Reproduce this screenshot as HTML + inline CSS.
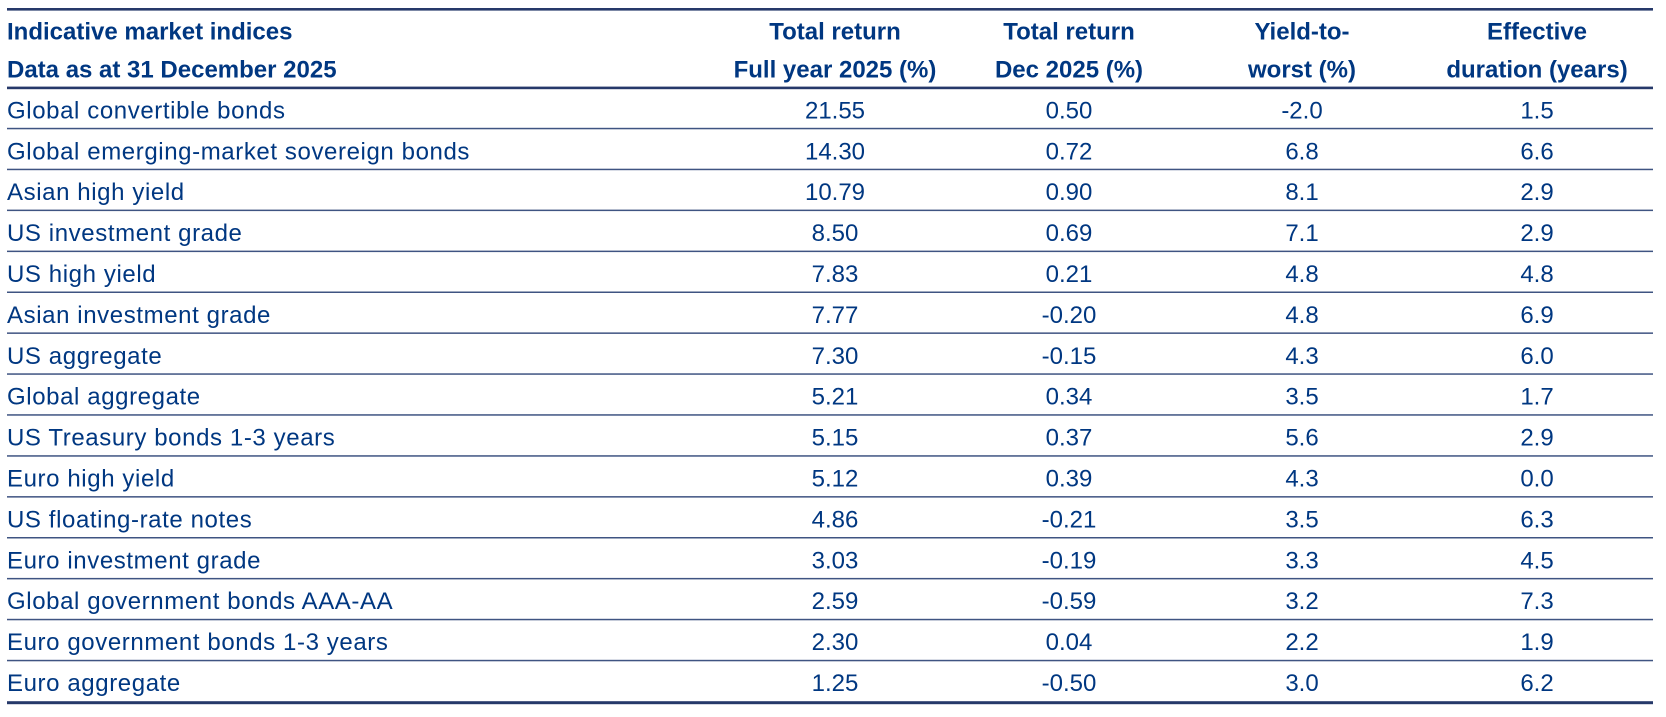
<!DOCTYPE html>
<html>
<head>
<meta charset="utf-8">
<style>
  html, body { margin:0; padding:0; background:#ffffff; }
  body { width:1666px; height:717px; overflow:hidden; }
  svg { display:block; }
  .h { font-family:"Liberation Sans", Arial, sans-serif; font-weight:bold; font-size:24px; fill:#003781; }
  .l { font-family:"Liberation Sans", Arial, sans-serif; font-size:24px; letter-spacing:0.6px; fill:#003781; }
  .n { font-family:"Liberation Sans", Arial, sans-serif; font-size:24px; fill:#003781; text-anchor:middle; }
  .hc { text-anchor:middle; }
</style>
</head>
<body>
<svg width="1666" height="717" viewBox="0 0 1666 717" xmlns="http://www.w3.org/2000/svg">
  <!-- thick rules -->
  <rect x="7" y="8" width="1646" height="2.6" fill="#26396a"/>
  <rect x="7" y="86.6" width="1646" height="2.6" fill="#26396a"/>
  <rect x="7" y="701.2" width="1646" height="3" fill="#26396a"/>

  <!-- thin row rules -->
  <g fill="#3f5482">
    <rect x="7" y="127.8" width="1646" height="1.5"/>
    <rect x="7" y="168.7" width="1646" height="1.5"/>
    <rect x="7" y="209.6" width="1646" height="1.5"/>
    <rect x="7" y="250.6" width="1646" height="1.5"/>
    <rect x="7" y="291.5" width="1646" height="1.5"/>
    <rect x="7" y="332.4" width="1646" height="1.5"/>
    <rect x="7" y="373.3" width="1646" height="1.5"/>
    <rect x="7" y="414.2" width="1646" height="1.5"/>
    <rect x="7" y="455.2" width="1646" height="1.5"/>
    <rect x="7" y="496.1" width="1646" height="1.5"/>
    <rect x="7" y="537.0" width="1646" height="1.5"/>
    <rect x="7" y="577.9" width="1646" height="1.5"/>
    <rect x="7" y="618.8" width="1646" height="1.5"/>
    <rect x="7" y="659.8" width="1646" height="1.5"/>
  </g>

  <!-- header -->
  <text class="h" x="7" y="39.5">Indicative market indices</text>
  <text class="h" x="7" y="77.5">Data as at 31 December 2025</text>
  <text class="h hc" x="835" y="39.5">Total return</text>
  <text class="h hc" x="835" y="77.5">Full year 2025 (%)</text>
  <text class="h hc" x="1069" y="39.5">Total return</text>
  <text class="h hc" x="1069" y="77.5">Dec 2025 (%)</text>
  <text class="h hc" x="1302" y="39.5">Yield-to-</text>
  <text class="h hc" x="1302" y="77.5">worst (%)</text>
  <text class="h hc" x="1537" y="39.5">Effective</text>
  <text class="h hc" x="1537" y="77.5">duration (years)</text>

  <!-- rows -->
  <g>
    <text class="l" x="7" y="118.4">Global convertible bonds</text>
    <text class="n" x="835" y="118.4">21.55</text><text class="n" x="1069" y="118.4">0.50</text><text class="n" x="1302" y="118.4">-2.0</text><text class="n" x="1537" y="118.4">1.5</text>

    <text class="l" x="7" y="159.3">Global emerging-market sovereign bonds</text>
    <text class="n" x="835" y="159.3">14.30</text><text class="n" x="1069" y="159.3">0.72</text><text class="n" x="1302" y="159.3">6.8</text><text class="n" x="1537" y="159.3">6.6</text>

    <text class="l" x="7" y="200.2">Asian high yield</text>
    <text class="n" x="835" y="200.2">10.79</text><text class="n" x="1069" y="200.2">0.90</text><text class="n" x="1302" y="200.2">8.1</text><text class="n" x="1537" y="200.2">2.9</text>

    <text class="l" x="7" y="241.1">US investment grade</text>
    <text class="n" x="835" y="241.1">8.50</text><text class="n" x="1069" y="241.1">0.69</text><text class="n" x="1302" y="241.1">7.1</text><text class="n" x="1537" y="241.1">2.9</text>

    <text class="l" x="7" y="282.0">US high yield</text>
    <text class="n" x="835" y="282.0">7.83</text><text class="n" x="1069" y="282.0">0.21</text><text class="n" x="1302" y="282.0">4.8</text><text class="n" x="1537" y="282.0">4.8</text>

    <text class="l" x="7" y="322.9">Asian investment grade</text>
    <text class="n" x="835" y="322.9">7.77</text><text class="n" x="1069" y="322.9">-0.20</text><text class="n" x="1302" y="322.9">4.8</text><text class="n" x="1537" y="322.9">6.9</text>

    <text class="l" x="7" y="363.8">US aggregate</text>
    <text class="n" x="835" y="363.8">7.30</text><text class="n" x="1069" y="363.8">-0.15</text><text class="n" x="1302" y="363.8">4.3</text><text class="n" x="1537" y="363.8">6.0</text>

    <text class="l" x="7" y="404.7">Global aggregate</text>
    <text class="n" x="835" y="404.7">5.21</text><text class="n" x="1069" y="404.7">0.34</text><text class="n" x="1302" y="404.7">3.5</text><text class="n" x="1537" y="404.7">1.7</text>

    <text class="l" x="7" y="445.6">US Treasury bonds 1-3 years</text>
    <text class="n" x="835" y="445.6">5.15</text><text class="n" x="1069" y="445.6">0.37</text><text class="n" x="1302" y="445.6">5.6</text><text class="n" x="1537" y="445.6">2.9</text>

    <text class="l" x="7" y="486.5">Euro high yield</text>
    <text class="n" x="835" y="486.5">5.12</text><text class="n" x="1069" y="486.5">0.39</text><text class="n" x="1302" y="486.5">4.3</text><text class="n" x="1537" y="486.5">0.0</text>

    <text class="l" x="7" y="527.4">US floating-rate notes</text>
    <text class="n" x="835" y="527.4">4.86</text><text class="n" x="1069" y="527.4">-0.21</text><text class="n" x="1302" y="527.4">3.5</text><text class="n" x="1537" y="527.4">6.3</text>

    <text class="l" x="7" y="568.3">Euro investment grade</text>
    <text class="n" x="835" y="568.3">3.03</text><text class="n" x="1069" y="568.3">-0.19</text><text class="n" x="1302" y="568.3">3.3</text><text class="n" x="1537" y="568.3">4.5</text>

    <text class="l" x="7" y="609.2">Global government bonds AAA-AA</text>
    <text class="n" x="835" y="609.2">2.59</text><text class="n" x="1069" y="609.2">-0.59</text><text class="n" x="1302" y="609.2">3.2</text><text class="n" x="1537" y="609.2">7.3</text>

    <text class="l" x="7" y="650.1">Euro government bonds 1-3 years</text>
    <text class="n" x="835" y="650.1">2.30</text><text class="n" x="1069" y="650.1">0.04</text><text class="n" x="1302" y="650.1">2.2</text><text class="n" x="1537" y="650.1">1.9</text>

    <text class="l" x="7" y="691.0">Euro aggregate</text>
    <text class="n" x="835" y="691.0">1.25</text><text class="n" x="1069" y="691.0">-0.50</text><text class="n" x="1302" y="691.0">3.0</text><text class="n" x="1537" y="691.0">6.2</text>
  </g>
</svg>
</body>
</html>
